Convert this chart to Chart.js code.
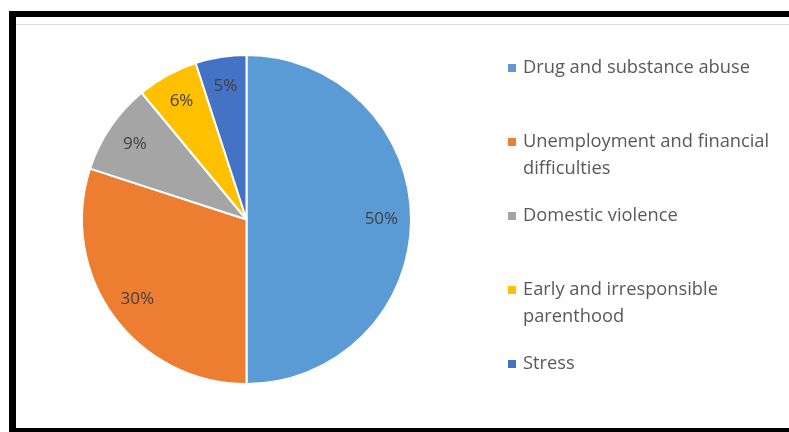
<!DOCTYPE html>
<html>
<head>
<meta charset="utf-8">
<script src="https://cdn.jsdelivr.net/npm/chart.js@4/dist/chart.umd.min.js"></script>
<style>
html,body{margin:0;padding:0;background:#fff;}
#wrap{position:relative;width:789px;height:432px;overflow:hidden;background:#fff;}
canvas{position:absolute;left:0;top:0;}
.bk{position:absolute;background:#000;}
.gl{position:absolute;background:#d9d9d9;}
</style>
</head>
<body>
<div id="wrap">
<canvas id="c" width="789" height="432"></canvas>
<div class="bk" style="left:9px;top:11px;width:780px;height:6px;"></div>
<div class="bk" style="left:9px;top:11px;width:7px;height:421px;"></div>
<div class="bk" style="left:9px;top:428px;width:780px;height:4px;"></div>
<div class="gl" style="left:16px;top:24px;width:773px;height:1px;"></div>
</div>
<script>
const categories = [
  ["Drug and substance abuse"],
  ["Unemployment and financial", "difficulties"],
  ["Domestic violence"],
  ["Early and irresponsible", "parenthood"],
  ["Stress"]
];
const values = [50, 30, 9, 6, 5];
const colors = ["#5B9BD5", "#ED7D31", "#A5A5A5", "#FFC000", "#4472C4"];

const FONT = "'Open Sans', Lato, sans-serif";

const labelPlugin = {
  id: 'sliceLabels',
  afterDatasetsDraw(chart) {
    const ctx = chart.ctx;
    const meta = chart.getDatasetMeta(0);
    ctx.save();
    ctx.font = "17px " + FONT;
    ctx.fillStyle = "#404040";
    ctx.textAlign = "center";
    ctx.textBaseline = "middle";
    meta.data.forEach((arc, i) => {
      const p = arc.getProps(['x','y','startAngle','endAngle','outerRadius'], true);
      const mid = (p.startAngle + p.endAngle) / 2;
      const r = p.outerRadius * 0.82;
      ctx.fillText(values[i] + "%", p.x + Math.cos(mid) * r, p.y + Math.sin(mid) * r);
    });
    ctx.restore();
  }
};

const legendPlugin = {
  id: 'sideLegend',
  afterDraw(chart) {
    const ctx = chart.ctx;
    const labels = chart.data.labels;
    const bg = chart.data.datasets[0].backgroundColor;
    const x0 = 508, y0 = 68, step = 74, lh = 27;
    ctx.save();
    ctx.font = "18.3px " + FONT;
    ctx.textBaseline = "middle";
    ctx.textAlign = "left";
    labels.forEach((lines, i) => {
      const y = y0 + i * step;
      ctx.fillStyle = bg[i];
      ctx.fillRect(x0, y - 4, 8, 8);
      ctx.fillStyle = "#595959";
      lines.forEach((t, j) => ctx.fillText(t, x0 + 15, y + j * lh));
    });
    ctx.restore();
  }
};

new Chart(document.getElementById('c'), {
  type: 'pie',
  data: {
    labels: categories,
    datasets: [{
      data: values,
      backgroundColor: colors,
      borderColor: "#ffffff",
      borderWidth: 2
    }]
  },
  options: {
    responsive: false,
    animation: false,
    layout: { padding: { left: 81, right: 377, top: 54, bottom: 47 } },
    plugins: {
      legend: { display: false },
      tooltip: { enabled: false }
    }
  },
  plugins: [labelPlugin, legendPlugin]
});
</script>
</body>
</html>
